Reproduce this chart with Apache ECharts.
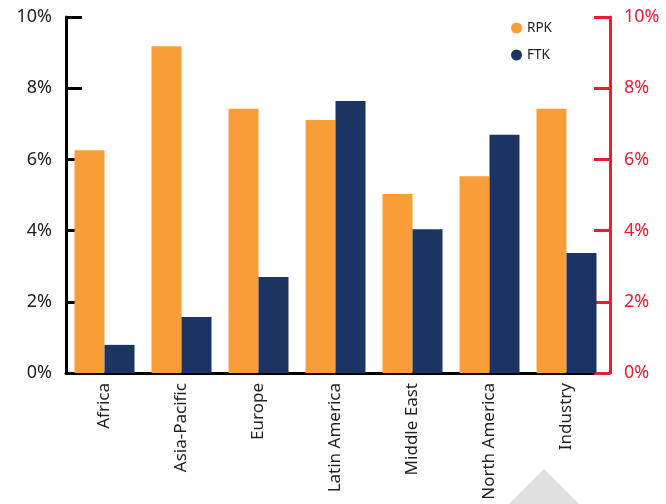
<!DOCTYPE html>
<html>
<head>
<meta charset="utf-8">
<script src="https://cdn.jsdelivr.net/npm/echarts@6/dist/echarts.min.js"></script>
<style>html,body{margin:0;padding:0;background:#fff;}#c{width:666px;height:504px;}</style>
</head>
<body>
<div id="c"></div>
<script>
const categories = ['Africa', 'Asia-Pacific', 'Europe', 'Latin America', 'Middle East', 'North America', 'Industry'];
const rpk = [6.26, 9.18, 7.42, 7.11, 5.03, 5.53, 7.42];
const ftk = [0.79, 1.57, 2.70, 7.64, 4.04, 6.69, 3.37];
const yTicks = [0, 2, 4, 6, 8, 10];

const chart = echarts.init(document.getElementById('c'));
chart.setOption({
  animation: false,
  backgroundColor: '#fff',
  grid: { left: 66, top: 17, width: 539, bottom: 131, containLabel: false },
  legend: {
    orient: 'vertical', left: 506, top: 16,
    icon: 'circle', itemWidth: 11, itemHeight: 11, itemGap: 13,
    textStyle: { fontFamily: 'Noto Sans', fontSize: 13.5, color: '#222' },
    data: ['RPK', 'FTK']
  },
  xAxis: {
    type: 'category', data: categories,
    axisLine: { lineStyle: { color: '#000', width: 3 } },
    axisTick: { show: false },
    axisLabel: { rotate: 90, margin: 10, fontFamily: 'Noto Sans', fontSize: 17, color: '#222' }
  },
  yAxis: [{
    type: 'value', min: 0, max: 10, interval: 2, position: 'left',
    axisLine: { show: true, lineStyle: { color: '#000', width: 3 } },
    axisTick: { show: true, inside: true, length: 16, lineStyle: { color: '#000', width: 3 } },
    splitLine: { show: false },
    axisLabel: { margin: 14, fontFamily: 'Noto Sans', fontSize: 18, color: '#222', formatter: v => v + '%' }
  }, {
    type: 'value', min: 0, max: 10, interval: 2, position: 'right', offset: 5,
    axisLine: { show: true, lineStyle: { color: '#ED1C2E', width: 3 } },
    axisTick: { show: true, inside: true, length: 16, lineStyle: { color: '#ED1C2E', width: 3 } },
    splitLine: { show: false },
    axisLabel: { margin: 14, fontFamily: 'Noto Sans', fontSize: 18, color: '#ED1C2E', formatter: v => v + '%' }
  }],
  series: [
    { name: 'RPK', type: 'bar', data: rpk, barWidth: 30, barGap: 0, itemStyle: { color: '#F99D38' } },
    { name: 'FTK', type: 'bar', data: ftk, barWidth: 30, barGap: 0, itemStyle: { color: '#1C3461' } }
  ],
  graphic: [{
    type: 'polygon', z: -1,
    shape: { points: [[544, 469], [499, 514], [589, 514]] },
    style: { fill: '#E0E0E0' }
  }]
});
</script>
</body>
</html>
